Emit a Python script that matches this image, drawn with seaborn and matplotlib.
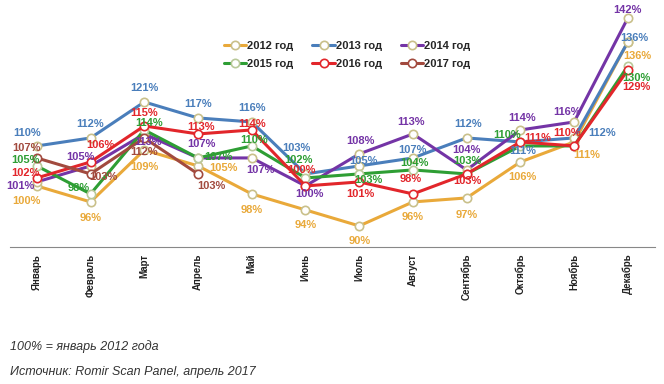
import pandas as pd
import matplotlib.pyplot as plt
import seaborn as sns

# Monthly index, 100% = January 2012
months = ["Январь", "Февраль", "Март", "Апрель", "Май", "Июнь", "Июль",
          "Август", "Сентябрь", "Октябрь", "Ноябрь", "Декабрь"]
y2012 = [100, 96, 109, 105, 98, 94, 90, 96, 97, 106, 111, 136]
y2013 = [110, 112, 121, 117, 116, 103, 105, 107, 112, 111, 112, 136]
y2014 = [101, 105, 113, 107, 107, 100, 108, 113, 104, 114, 116, 142]
y2015 = [105, 98, 114, 107, 110, 102, 103, 104, 103, 110, 110, 130]
y2016 = [102, 106, 115, 113, 114, 100, 101, 98, 103, 111, 110, 129]
y2017 = [107, 103, 112, 103]

series = {"2012 год": y2012, "2013 год": y2013, "2014 год": y2014,
          "2015 год": y2015, "2016 год": y2016, "2017 год": y2017}

colors = {"2012 год": "#E9A93A", "2013 год": "#4A7EBB", "2014 год": "#7434A6",
          "2015 год": "#2E9E34", "2016 год": "#E2262B", "2017 год": "#A24A3E"}
edges = {"2012 год": "#C9C08A", "2013 год": "#C9C08A", "2014 год": "#C9C08A",
         "2015 год": "#B9C99A", "2016 год": "#E2262B", "2017 год": "#A24A3E"}

# label offsets in pixels (dx, dy) relative to each point
offsets = {
    "2012 год": [(-10, -15), (0, -16), (0, -17), (25, -2), (0, -16), (0, -15),
                 (0, -15), (0, -15), (0, -17), (2, -15), (13, -13), (9, -14)],
    "2013 год": [(-10, 13), (0, 14), (0, 14), (0, 14), (0, 14), (-9, 26),
                 (4, 5), (0, 8), (1, 14), (2, -9), (28, 5), (6, 4)],
    "2014 год": [(-16, -4), (-10, 9), (4, -8), (3, 14), (9, -12), (4, -8),
                 (1, 13), (-2, 12), (0, 20), (2, 12), (-7, 10), (0, 8)],
    "2015 год": [(-11, 6), (-12, 6), (5, 7), (20, 1), (2, 6), (-7, 18),
                 (9, -6), (2, 7), (1, 13), (-13, 11), None, (9, -12)],
    "2016 год": [(-11, 5), (10, 17), (0, 13), (3, 7), (0, 6), (-4, 16),
                 (1, -12), (-2, 15), (1, -7), (17, 4), (-7, 13), (9, -17)],
    "2017 год": [(-10, 10), (13, -3), (0, -14), (13, -12)],
}

sns.set_style("white")
plt.rcParams["font.family"] = ["Liberation Sans", "DejaVu Sans"]

fig = plt.figure(figsize=(6.64, 3.84), dpi=100)
ax = fig.add_axes([0.015, 0.357, 0.971, 0.643])

for name, vals in series.items():
    df = pd.DataFrame({"x": range(len(vals)), "y": vals})
    sns.lineplot(data=df, x="x", y="y", ax=ax, color=colors[name], lw=2.2,
                 marker="o", markersize=6, markerfacecolor="white",
                 markeredgecolor=edges[name], markeredgewidth=1.2, label=name)
    for i, v in enumerate(vals):
        off = offsets[name][i]
        if off is None:
            continue
        ax.annotate(f"{v}%", (i, v), xytext=off, textcoords="offset pixels",
                    ha="center", va="center", fontsize=8, fontweight="bold",
                    color=colors[name])

ax.set_xlim(-0.5, 11.5)
ax.set_ylim(84.75, 146.5)
ax.set_xlabel("")
ax.set_ylabel("")
ax.set_yticks([])
ax.set_xticks(range(len(months)))
ax.set_xticklabels(months, rotation=90, fontsize=7, fontweight="bold", color="#222222")
ax.set_xticks([i - 0.5 for i in range(len(months) + 1)], minor=True)
ax.tick_params(axis="x", which="major", length=0, pad=5)
ax.tick_params(axis="x", which="minor", length=4, color="#888888", width=0.8)
for s in ["top", "right", "left"]:
    ax.spines[s].set_visible(False)
ax.spines["bottom"].set_color("#888888")
ax.spines["bottom"].set_linewidth(0.8)

# legend filled row by row, like the original
handles, labels = ax.get_legend_handles_labels()
order = [0, 3, 1, 4, 2, 5]
ax.legend([handles[i] for i in order], [labels[i] for i in order],
          loc="upper center", bbox_to_anchor=(0.523, 0.875), ncol=3,
          frameon=False, prop={"size": 8, "weight": "bold"},
          handlelength=2.0, handletextpad=0.1, columnspacing=1.7,
          labelspacing=0.75)

fig.text(0.015, 0.098, "100% = январь 2012 года", fontsize=9, style="italic",
         color="#333333", va="center")
fig.text(0.015, 0.03, "Источник: Romir Scan Panel, апрель 2017", fontsize=9,
         style="italic", color="#333333", va="center")

plt.savefig("out.png", dpi=100)
plt.close()
